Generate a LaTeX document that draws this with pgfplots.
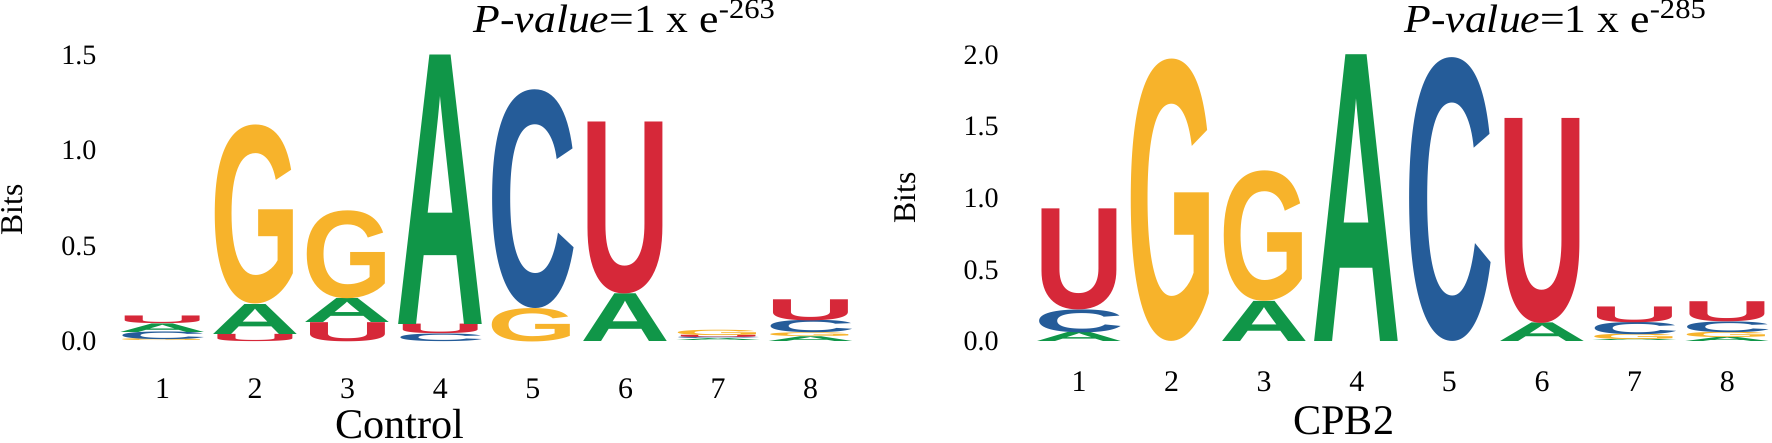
\documentclass[border=0pt]{standalone}
\usepackage{fontspec}
\setmainfont{Liberation Serif}
\newfontfamily\titlefont{Liberation Serif}[FakeStretch=1.1]
\newfontfamily\logofont{Liberation Sans}
\usepackage{graphicx}
\usepackage{xcolor}
\usepackage{pgfplots}
\usepackage{pgfplotstable}
\pgfplotsset{compat=1.18}
\definecolor{colA}{HTML}{109648}
\definecolor{colC}{HTML}{255C99}
\definecolor{colG}{HTML}{F7B32B}
\definecolor{colU}{HTML}{D62839}
\newcommand\logoletter[2]{\textcolor{col#1}{\resizebox*{0.90cm}{#2cm}{\logofont\bfseries #1}}}

\pgfplotstableread{
x y h L
1 0     0.010 G
1 0.010 0.040 C
1 0.050 0.045 A
1 0.095 0.040 U
2 0     0.038 U
2 0.038 0.157 A
2 0.195 0.937 G
3 0     0.100 U
3 0.100 0.126 A
3 0.226 0.460 G
4 0     0.040 C
4 0.040 0.050 U
4 0.090 1.410 A
5 0     0.175 G
5 0.175 1.145 C
6 0     0.250 A
6 0.250 0.900 U
7 0     0.010 A
7 0.010 0.010 C
7 0.020 0.012 U
7 0.032 0.028 G
8 0     0.025 A
8 0.025 0.020 G
8 0.045 0.065 C
8 0.110 0.110 U
}\ctrltab

\pgfplotstableread{
x y h L
1 0     0.065 A
1 0.065 0.160 C
1 0.225 0.705 U
2 0     1.970 G
3 0     0.280 A
3 0.280 0.910 G
4 0     2.000 A
5 0     1.980 C
6 0     0.130 A
6 0.130 1.430 U
7 0     0.012 A
7 0.012 0.038 G
7 0.050 0.085 C
7 0.135 0.110 U
8 0     0.028 A
8 0.028 0.037 G
8 0.065 0.075 C
8 0.140 0.140 U
}\cpbtab

\pgfplotsset{
  logoaxis/.style={
    scale only axis, anchor=south west, clip=false,
    xmin=0.5, xmax=8.5, x=0.926cm, ymin=0,
    axis line style={draw=none}, major tick style={draw=none},
    xtick={1,2,3,4,5,6,7,8},
    xticklabels={1,2,3,4,5,6,7,8},
    xticklabel style={font=\fontsize{8.5}{10}\selectfont, anchor=center, inner sep=0pt},
    yticklabel style={font=\fontsize{8}{9}\selectfont, anchor=east, inner sep=0pt},
    title style={font=\titlefont\fontsize{11.3}{13}\selectfont, anchor=base, inner sep=0pt, yshift=-6pt},
    xlabel style={font=\fontsize{12}{14}\selectfont, anchor=center, inner sep=0pt},
    ylabel style={font=\fontsize{9}{11}\selectfont, anchor=center, rotate=0, inner sep=0pt},
  },
  logoplot/.style={
    draw=none, mark=none,
    point meta=explicit symbolic,
    visualization depends on={\thisrow{h}*#1 \as \hh},
    nodes near coords={\logoletter{\pgfplotspointmeta}{\hh}},
    every node near coord/.style={anchor=south, inner sep=0pt, outer sep=0pt},
  },
}

\begin{document}
\begin{tikzpicture}
\path[use as bounding box] (0,0) rectangle (17.72cm,4.43cm);
\begin{axis}[logoaxis,
  at={(1.162cm,1.013cm)},
  ymax=1.6, y=1.91cm,
  ytick={0,0.5,1,1.5}, yticklabels={0.0,0.5,1.0,1.5},
  xticklabel style={yshift=-0.47cm},
  yticklabel style={xshift=-0.19cm},
  title={\textit{P-value}=1 x e\textsuperscript{-263}},
  title style={at={(rel axis cs:0.687,1.0)}, yshift=0.035cm},
  xlabel={Control},
  xlabel style={at={(rel axis cs:0.3826,-0.27)}},
  ylabel={Bits},
  ylabel style={at={(rel axis cs:-0.1399,0.431)}},
]
\addplot[logoplot=1.91] table[x=x, y=y, meta=L] {\ctrltab};
\end{axis}
\begin{axis}[logoaxis,
  at={(10.327cm,1.013cm)},
  ymax=2.05, y=1.433cm,
  ytick={0,0.5,1,1.5,2}, yticklabels={0.0,0.5,1.0,1.5,2.0},
  xticklabel style={yshift=-0.40cm},
  yticklabel style={xshift=-0.332cm},
  title={\textit{P-value}=1 x e\textsuperscript{-285}},
  title style={at={(rel axis cs:0.7064,1.0)}, yshift=0.155cm},
  xlabel={CPB2},
  xlabel style={at={(rel axis cs:0.4198,-0.27)}},
  ylabel={Bits},
  ylabel style={at={(rel axis cs:-0.1716,0.489)}},
]
\addplot[logoplot=1.433] table[x=x, y=y, meta=L] {\cpbtab};
\end{axis}
\end{tikzpicture}
\end{document}
